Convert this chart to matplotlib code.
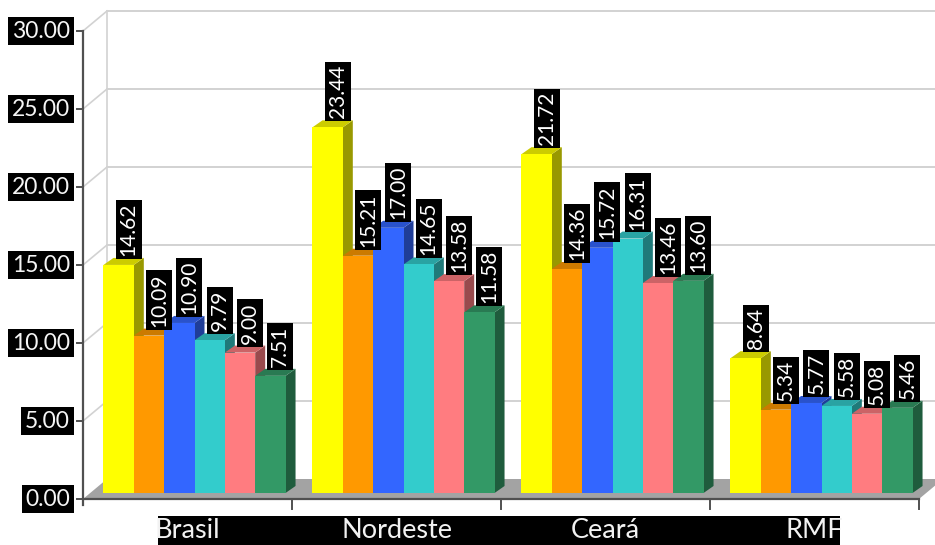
import matplotlib
matplotlib.use('Agg')
import matplotlib.pyplot as plt
import matplotlib.colors as mcolors
from matplotlib.patches import Polygon, Rectangle

# valores por região (seis séries)
categorias = ['Brasil', 'Nordeste', 'Ceará', 'RMF']
serie_1 = [14.62, 23.44, 21.72, 8.64]
serie_2 = [10.09, 15.21, 14.36, 5.34]
serie_3 = [10.90, 17.00, 15.72, 5.77]
serie_4 = [9.79, 14.65, 16.31, 5.58]
serie_5 = [9.00, 13.58, 13.46, 5.08]
serie_6 = [7.51, 11.58, 13.60, 5.46]
series = [serie_1, serie_2, serie_3, serie_4, serie_5, serie_6]
cores = ['#FFFF00', '#FF9900', '#3366FF', '#33CCCC', '#FF7C80', '#339966']
ticks_y = [0, 5, 10, 15, 20, 25, 30]

W, H = 935, 545
fig = plt.figure(figsize=(W / 100, H / 100), dpi=100)
fig.patch.set_facecolor('white')

# eixo frontal: x 83..919 px, y 0 -> 499 px, 30 -> 31 px
x0, x1, y0, y1 = 83, 919, 499, 31
ax = fig.add_axes([x0 / W, (H - y0) / H, (x1 - x0) / W, (y0 - y1) / H])
ax.set_xlim(0, 4)
ax.set_ylim(0, 30)
ax.set_axis_off()

PX_X = (x1 - x0) / 4.0
PX_Y = (y0 - y1) / 30.0


def px(dx, dy):
    return dx / PX_X, dy / PX_Y


wall_dx, wall_dy = px(24, 20)
plane_dx, plane_dy = px(7, 6)
depth_dx, depth_dy = px(10, 7)

grid_c = '#D2D2D2'
# paredes e grade
for v in ticks_y[1:]:
    ax.plot([wall_dx, 4 + 0.3], [v + wall_dy, v + wall_dy], color=grid_c, lw=1.4, clip_on=False, zorder=1)
    ax.plot([0, wall_dx], [v, v + wall_dy], color=grid_c, lw=1.2, clip_on=False, zorder=1)
ax.plot([wall_dx, wall_dx], [wall_dy, 30 + wall_dy], color=grid_c, lw=1.2, clip_on=False, zorder=1)

# piso
ax.add_patch(Polygon([(0, 0), (4, 0), (4 + wall_dx, wall_dy), (wall_dx, wall_dy)],
                     closed=True, facecolor='#A3A3A3', edgecolor='none', clip_on=False, zorder=2))

# barras 3D
n = len(series)
bw = 0.1452
start = (1 - n * bw) / 2
z = 3
for g in range(len(categorias)):
    for i, s in enumerate(series):
        val = s[g]
        xl = g + start + i * bw + plane_dx
        xr = xl + bw
        yb = plane_dy
        yt = val + plane_dy
        rgb = mcolors.to_rgb(cores[i])
        top_c = tuple(c * 0.8 for c in rgb)
        side_c = tuple(c * 0.6 for c in rgb)
        ax.add_patch(Polygon([(xr, yb), (xr + depth_dx, yb + depth_dy), (xr + depth_dx, yt + depth_dy), (xr, yt)],
                             closed=True, facecolor=side_c, edgecolor='none', clip_on=False, zorder=z))
        ax.add_patch(Polygon([(xl, yt), (xr, yt), (xr + depth_dx, yt + depth_dy), (xl + depth_dx, yt + depth_dy)],
                             closed=True, facecolor=top_c, edgecolor='none', clip_on=False, zorder=z))
        ax.add_patch(Rectangle((xl, yb), bw, val, facecolor=cores[i], edgecolor='none', clip_on=False, zorder=z + 0.5))
        z += 1

# eixos
axis_c = '#505050'
ax.plot([0, 4], [0, 0], color=axis_c, lw=1.6, clip_on=False, zorder=200)
ax.plot([0, 0], [-0.4, 30], color=axis_c, lw=1.6, clip_on=False, zorder=200)
tx = px(6, 0)[0]
for v in ticks_y:
    ax.plot([-tx, 0], [v, v], color=axis_c, lw=1.4, clip_on=False, zorder=200)
    ax.text(-px(13, 0)[0], v, f'{v:.2f}', ha='right', va='center', fontsize=16.5,
            family='Lato', color='#F5F5F5', zorder=210,
            bbox=dict(boxstyle='square,pad=0.16', facecolor='black', edgecolor='none'))
for g in range(1, 5):
    ax.plot([g, g], [0, -px(0, 10)[1]], color=axis_c, lw=1.4, clip_on=False, zorder=200)

# rótulos de valor
for g in range(len(categorias)):
    for i, s in enumerate(series):
        val = s[g]
        xc = g + start + (i + 0.5) * bw + plane_dx + depth_dx
        yt = val + plane_dy + depth_dy + px(0, 2)[1]
        ax.text(xc, yt, f'{val:.2f}', rotation=90, ha='center', va='bottom', fontsize=15,
                family='Lato', color='white', zorder=300 + g * 10 + i,
                bbox=dict(boxstyle='square,pad=0.14', facecolor='black', edgecolor='none'))

# faixa das categorias
band_l = (158 - x0) / PX_X
band_r = (840 - x0) / PX_X
ax.add_patch(Rectangle((band_l, -(545 - y0) / PX_Y), band_r - band_l, (545 - 516) / PX_Y,
                       facecolor='black', edgecolor='none', clip_on=False, zorder=250))
for g, nome in enumerate(categorias):
    ax.text(g + 0.5, -(531 - y0) / PX_Y, nome, ha='center', va='center', fontsize=19.5,
            family='Lato', color='#F2F2F2', zorder=260)

fig.savefig('out.png', dpi=100, facecolor='white')
